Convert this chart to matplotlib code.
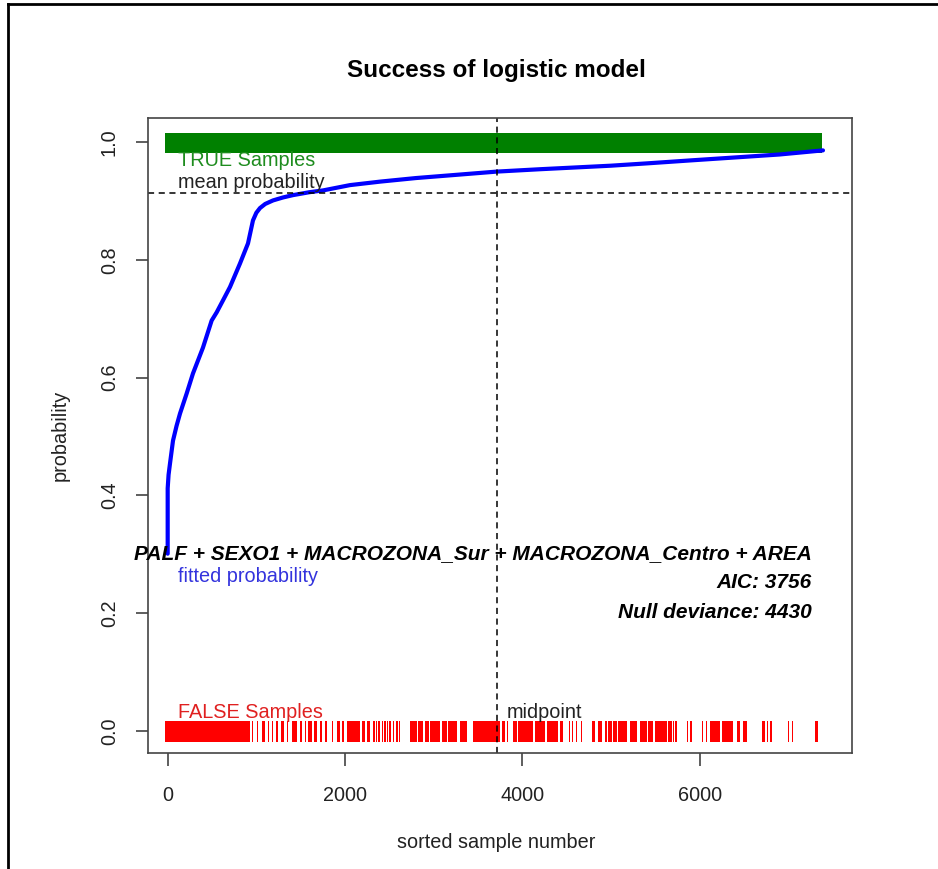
import matplotlib
matplotlib.use("Agg")
import matplotlib.pyplot as plt
from matplotlib.lines import Line2D

plt.rcParams['font.family'] = ['Liberation Sans', 'DejaVu Sans']

# sorted fitted probabilities
curve_x = [0, 0, 10, 26, 60, 100, 139, 214, 285, 398, 496, 553, 630, 703, 816,
           906, 962, 1000, 1041, 1100, 1188, 1300, 1413, 1600, 1752, 2056, 2400,
           2800, 3300, 3715, 4200, 4600, 5000, 5413, 5900, 6400, 6900, 7392]
curve_y = [0.301, 0.412, 0.435, 0.454, 0.493, 0.518, 0.539, 0.573, 0.607, 0.651,
           0.697, 0.711, 0.733, 0.754, 0.794, 0.828, 0.867, 0.880, 0.888, 0.895,
           0.901, 0.906, 0.910, 0.915, 0.918, 0.927, 0.933, 0.939, 0.945, 0.950,
           0.954, 0.957, 0.960, 0.964, 0.969, 0.974, 0.979, 0.986]

# TRUE samples rug (start, end) in sample number
true_spans = [(-30, 7386)]

# FALSE samples rug (start, end) in sample number
false_spans = [
    (-30, 928), (955, 964), (981, 990), (1007, 1016), (1060, 1098), (1131, 1140),
    (1173, 1191), (1222, 1248), (1275, 1312), (1342, 1360), (1399, 1455),
    (1492, 1512), (1553, 1562), (1586, 1624), (1650, 1681), (1718, 1737),
    (1774, 1800), (1850, 1868), (1906, 1944), (1963, 1989), (2019, 2169),
    (2188, 2226), (2245, 2282), (2320, 2340), (2355, 2364), (2370, 2400),
    (2418, 2427), (2440, 2460), (2478, 2487), (2500, 2520), (2541, 2550),
    (2570, 2600), (2612, 2620), (2733, 2809), (2827, 2883), (2902, 2950),
    (2960, 3010), (3020, 3072), (3091, 3147), (3165, 3260), (3297, 3373),
    (3447, 3748), (3768, 3805), (3827, 3836), (3857, 3866), (3899, 3937),
    (3955, 4124), (4143, 4256), (4275, 4406), (4425, 4463), (4489, 4498),
    (4527, 4536), (4564, 4573), (4610, 4619), (4666, 4675), (4783, 4820),
    (4858, 4896), (4933, 4952), (4970, 5008), (5027, 5065), (5083, 5178),
    (5215, 5290), (5328, 5403), (5421, 5478), (5497, 5629), (5647, 5685),
    (5699, 5708), (5722, 5742), (5854, 5873), (5892, 5911), (6024, 6042),
    (6076, 6085), (6117, 6230), (6249, 6380), (6418, 6456), (6493, 6531),
    (6700, 6738), (6757, 6775), (6794, 6813), (6903, 6912), (6959, 6968),
    (6997, 7006), (7039, 7057), (7185, 7194), (7302, 7339),
]

mean_prob = 0.913
midpoint = 3715
x_ticks = [0, 2000, 4000, 6000]
y_ticks = [0.0, 0.2, 0.4, 0.6, 0.8, 1.0]
formula = "PALF + SEXO1 + MACROZONA_Sur + MACROZONA_Centro + AREA"
aic = 3756
null_dev = 4430

W, H = 938, 869
fig = plt.figure(figsize=(W / 100, H / 100), dpi=100)
ax = fig.add_axes([148 / W, 1 - 752.7 / H, (851.7 - 148) / W, (752.7 - 118) / H])

ax.broken_barh([(a, b - a) for a, b in true_spans], (0.982, 0.033),
               facecolor='#008000', edgecolor='none')
ax.broken_barh([(a, b - a) for a, b in false_spans], (-0.018, 0.034),
               facecolor='#ff0000', edgecolor='none')

ax.plot(curve_x, curve_y, color='#0000ff', lw=3.0, solid_capstyle='round',
        solid_joinstyle='round')

ax.axhline(mean_prob, color='black', lw=1.1, ls=(0, (4, 3)))
ax.axvline(midpoint, color='black', lw=1.1, ls=(0, (4, 3)))

fs = 14.3
bfs = 15
ax.text(116, 0.969, "TRUE Samples", color='#1e8c1e', fontsize=fs, va='center')
ax.text(116, 0.932, "mean probability", color='#222222', fontsize=fs, va='center')
ax.text(116, 0.262, "fitted probability", color='#3333dd', fontsize=fs, va='center')
ax.text(116, 0.031, "FALSE Samples", color='#e02020', fontsize=fs, va='center')
ax.text(3828, 0.031, "midpoint", color='#222222', fontsize=fs, va='center')
ax.text(7267, 0.301, formula, fontsize=bfs, fontweight='bold', style='italic',
        ha='right', va='center')
ax.text(7267, 0.252, "AIC: %d" % aic, fontsize=bfs, fontweight='bold',
        style='italic', ha='right', va='center')
ax.text(7267, 0.201, "Null deviance: %d" % null_dev, fontsize=bfs,
        fontweight='bold', style='italic', ha='right', va='center')

ax.set_xlim(-222, 7716)
ax.set_ylim(-0.037, 1.041)
ax.set_xticks(x_ticks)
ax.set_xticklabels([str(t) for t in x_ticks])
ax.set_yticks(y_ticks)
ax.set_yticklabels(["%.1f" % t for t in y_ticks], rotation=90, va='center')
ax.tick_params(direction='out', length=9, width=1.1, labelsize=fs,
               colors='#333333', labelcolor='#222222')
ax.tick_params(axis='x', pad=15)
ax.tick_params(axis='y', pad=12)
for s in ax.spines.values():
    s.set_color('#444444')
    s.set_linewidth(1.2)

fig.text(496 / W, 1 - 70 / H, "Success of logistic model", fontsize=17.5,
         fontweight='bold', ha='center', va='center')
fig.text(496 / W, 1 - 843 / H, "sorted sample number", fontsize=fs,
         ha='center', va='center', color='#222222')
fig.text(60 / W, 1 - 435 / H, "probability", fontsize=fs, rotation=90,
         ha='center', va='center', color='#222222')

# outer frame (left and top edges)
fig.add_artist(Line2D([8 / W, 8 / W], [0, 1 - 4 / H], color='black', lw=2))
fig.add_artist(Line2D([8 / W, 1], [1 - 4 / H, 1 - 4 / H], color='black', lw=2))

fig.savefig("out.png", dpi=100)
